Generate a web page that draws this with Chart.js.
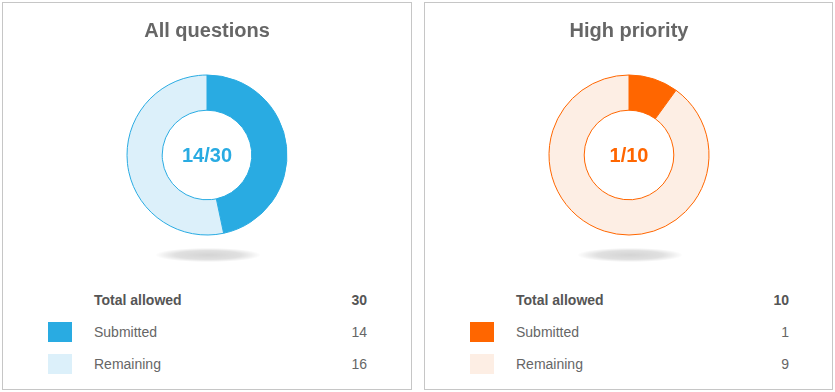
<!DOCTYPE html>
<html>
<head>
<meta charset="utf-8">
<script src="https://cdn.jsdelivr.net/npm/chart.js@4"></script>
<style>
body { margin: 0; background: #fff; font-family: "Liberation Sans", Arial, sans-serif; }
.panel { position: absolute; top: 2px; width: 408px; height: 386px; border: 1px solid #c6c6c6; background: #fff; }
.panel canvas { position: absolute; left: 0; top: 0; }
.shadow { position: absolute; left: 153px; top: 245px; width: 104px; height: 14px;
  background: radial-gradient(ellipse at center, rgba(0,0,0,0.17) 0%, rgba(0,0,0,0.12) 45%, rgba(0,0,0,0) 72%); }
.row { position: absolute; left: 0; width: 408px; height: 20px; font-size: 14px; color: #666; }
.row .sq { position: absolute; left: 45px; top: 0; width: 24px; height: 20px; }
.row .lbl { position: absolute; left: 91px; top: 2px; }
.row .val { position: absolute; right: 44px; top: 2px; }
.row.head { font-weight: bold; color: #555; }
</style>
</head>
<body>
<div class="panel" id="p0" style="left:2px"></div>
<div class="panel" id="p1" style="left:424px; width:407px"></div>
<script>
const panelTitles = ['All questions', 'High priority'];
const categories = ['Submitted', 'Remaining'];
const submitted = [14, 1];
const remaining = [16, 9];
const totals = [30, 10];

const mainColors = ['#29abe2', '#ff6600'];
const lightColors = ['#dcf0fa', '#fdeee4'];

const centerText = {
    id: 'centerText',
    afterDraw(chart) {
        const arc = chart.getDatasetMeta(0).data[0];
        const ctx = chart.ctx;
        const o = chart.options.plugins.centerText;
        ctx.save();
        ctx.font = 'bold 20px "Liberation Sans", Arial, sans-serif';
        ctx.fillStyle = o.color;
        ctx.textAlign = 'center';
        ctx.textBaseline = 'middle';
        ctx.fillText(o.text, arc.x, arc.y + 1);
        ctx.restore();
    }
};

panelTitles.forEach(function (title, i) {
    const panel = document.getElementById('p' + i);
    const canvas = document.createElement('canvas');
    canvas.width = 408;
    canvas.height = 254;
    canvas.style.width = '408px';
    canvas.style.height = '254px';
    panel.appendChild(canvas);

    const shadow = document.createElement('div');
    shadow.className = 'shadow';
    panel.appendChild(shadow);

    new Chart(canvas, {
        type: 'doughnut',
        data: {
            labels: categories,
            datasets: [{
                data: [submitted[i], remaining[i]],
                backgroundColor: [mainColors[i], lightColors[i]],
                borderColor: mainColors[i],
                borderWidth: 1,
                radius: 80,
                cutout: '56%'
            }]
        },
        options: {
            responsive: false,
            maintainAspectRatio: false,
            animation: false,
            events: [],
            layout: { padding: 0 },
            plugins: {
                legend: { display: false },
                tooltip: { enabled: false },
                title: {
                    display: true,
                    text: title,
                    color: '#666',
                    font: { family: '"Liberation Sans", Arial, sans-serif', size: 20, weight: 'bold' },
                    padding: { top: 16, bottom: 10 }
                },
                centerText: { text: submitted[i] + '/' + totals[i], color: mainColors[i] }
            }
        },
        plugins: [centerText]
    });

    const rows = [
        { label: 'Total allowed', value: totals[i], head: true },
        { label: categories[0], value: submitted[i], color: mainColors[i] },
        { label: categories[1], value: remaining[i], color: lightColors[i] }
    ];
    rows.forEach(function (r, k) {
        const row = document.createElement('div');
        row.className = 'row' + (r.head ? ' head' : '');
        row.style.top = (287 + k * 32) + 'px';
        if (r.color) {
            const sq = document.createElement('div');
            sq.className = 'sq';
            sq.style.background = r.color;
            row.appendChild(sq);
        }
        const lbl = document.createElement('span');
        lbl.className = 'lbl';
        lbl.textContent = r.label;
        row.appendChild(lbl);
        const val = document.createElement('span');
        val.className = 'val';
        val.textContent = r.value;
        row.appendChild(val);
        panel.appendChild(row);
    });
});
</script>
</body>
</html>
